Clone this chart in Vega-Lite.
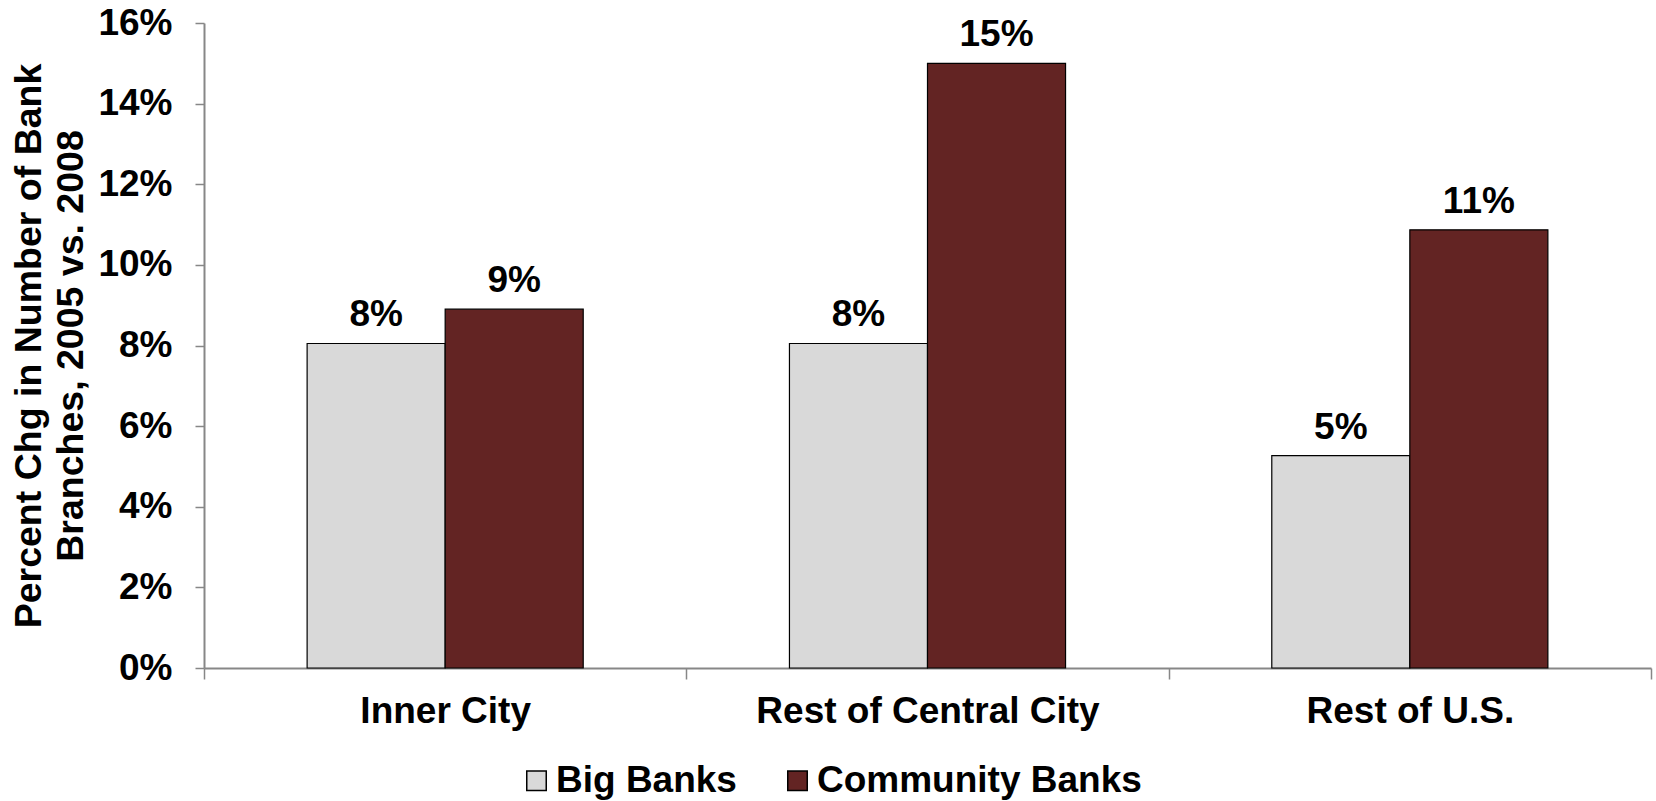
{
  "$schema": "https://vega.github.io/schema/vega-lite/v6.json",
  "width": 1447,
  "height": 645,
  "autosize": {"type": "none"},
  "padding": {"left": 204, "top": 23, "right": 5, "bottom": 133},
  "background": "white",
  "config": {
    "view": {"stroke": null},
    "font": "Liberation Sans",
    "axis": {"labelFont": "Liberation Sans", "titleFont": "Liberation Sans", "labelFontWeight": "bold", "titleFontWeight": "bold", "labelColor": "black", "titleColor": "black", "domainColor": "#878787", "tickColor": "#878787", "grid": false}
  },
  "data": {
    "values": [
      {"region": "Inner City", "bank": "Big Banks", "value": 0.0805},
      {"region": "Inner City", "bank": "Community Banks", "value": 0.089},
      {"region": "Rest of Central City", "bank": "Big Banks", "value": 0.0805},
      {"region": "Rest of Central City", "bank": "Community Banks", "value": 0.150},
      {"region": "Rest of U.S.", "bank": "Big Banks", "value": 0.0527},
      {"region": "Rest of U.S.", "bank": "Community Banks", "value": 0.1087}
    ]
  },
  "encoding": {
    "x": {
      "field": "region", "type": "nominal",
      "sort": ["Inner City", "Rest of Central City", "Rest of U.S."],
      "scale": {"paddingInner": 0, "paddingOuter": 0},
      "axis": {"title": null, "labelAngle": 0, "labelFontSize": 37, "labelLimit": 600, "tickBand": "extent", "tickSize": 11, "labelPadding": 14, "domainWidth": 2, "tickWidth": 1.5}
    },
    "xOffset": {"field": "bank", "type": "nominal", "sort": ["Big Banks", "Community Banks"], "scale": {"paddingInner": 0, "paddingOuter": 0.747}},
    "y": {
      "field": "value", "type": "quantitative",
      "scale": {"domain": [0, 0.16], "nice": false},
      "axis": {"values": [0, 0.02, 0.04, 0.06, 0.08, 0.1, 0.12, 0.14, 0.16], "format": ".0%", "labelFontSize": 37, "tickSize": 9, "labelPadding": 23, "domainWidth": 2, "tickWidth": 1.5,
        "title": ["Percent Chg in Number of Bank", "Branches, 2005 vs. 2008"], "titleFontSize": 37.5, "titleLineHeight": 42, "titlePadding": 7}
    }
  },
  "layer": [
    {
      "mark": {"type": "bar", "stroke": "black", "strokeWidth": 1.2},
      "encoding": {
        "color": {
          "field": "bank", "type": "nominal",
          "scale": {"domain": ["Big Banks", "Community Banks"], "range": ["#D9D9D9", "#632423"]},
          "legend": {"title": null, "orient": "none", "direction": "horizontal", "legendX": 314, "legendY": 739, "padding": 0,
            "symbolType": "square", "symbolSize": 380, "symbolStrokeColor": "black", "symbolStrokeWidth": 1.5,
            "labelFont": "Liberation Sans", "labelFontSize": 37, "labelFontWeight": "bold", "labelColor": "black", "labelOffset": 1, "columnPadding": 42, "labelLimit": 600}
        }
      }
    },
    {
      "mark": {"type": "text", "font": "Liberation Sans", "fontWeight": "bold", "fontSize": 37, "baseline": "alphabetic", "dy": -17, "color": "black"},
      "encoding": {
        "text": {"field": "value", "type": "quantitative", "format": ".0%"}
      }
    }
  ]
}
